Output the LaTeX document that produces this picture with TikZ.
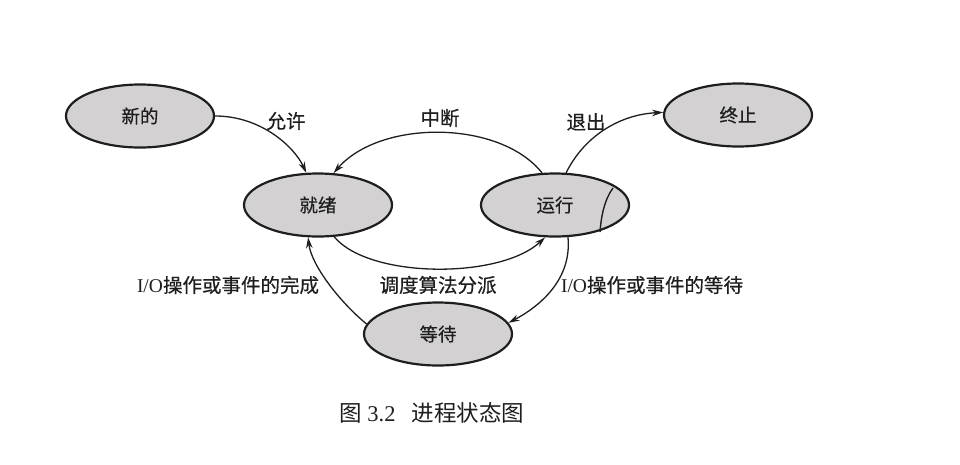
\documentclass[tikz,border=0pt]{standalone}
\usepackage{fontspec}
\setmainfont{Liberation Serif}
\newfontfamily\cjk[FakeBold=0.5]{Noto Sans CJK SC}
\newfontfamily\capfont{Noto Sans CJK SC}
\usetikzlibrary{shapes.geometric,arrows.meta}
\definecolor{statefill}{HTML}{D3D1D1}
\definecolor{ink}{HTML}{1E1E1E}
\tikzset{
  state/.style={ellipse, draw=ink, line width=2.2pt, fill=statefill,
    minimum width=148pt, minimum height=63pt, inner sep=0pt,
    font=\cjk\fontsize{18.5}{21}\selectfont, text=ink},
  trans/.style={draw=ink, line width=1.3pt, -{Stealth[length=11pt,width=6.5pt]}},
  lbl/.style={font=\cjk\fontsize{19.5}{22}\selectfont, text=ink, inner sep=0pt},
}
\begin{document}
\begin{tikzpicture}[x=1pt,y=-1pt]
\useasboundingbox (0,0) rectangle (960,464);
% states
\node[state] (xin)  at (140,116) {新的};
\node[state] (jx)   at (318,205) {就绪};
\node[state] (yx)   at (555,205) {运行};
\node[state] (zz)   at (738,115) {终止};
\node[state] (dd)   at (438,334) {等待};
% transitions
\draw[trans] (xin.0) .. controls +(46,0) and +(-12,-26) .. (jx.110);
\draw[trans] (yx.112) .. controls +(-42,-53) and +(47,-54) .. (jx.64);
\draw[trans] (yx.71) .. controls +(19,-38) and +(-42,2) .. (zz.178);
\draw[trans] (jx.297) .. controls +(35,42) and +(-45,42) .. (yx.253);
\draw[trans] (dd.172) .. controls +(-28,-23) and +(3,27) .. (jx.253);
\draw[trans] (yx.292) .. controls +(4,42) and +(32,-17) .. (dd.9);
% scan artifact inside 运行
\draw[ink, line width=1.4pt] (613,188) .. controls (604,200) and (601,218) .. (600,232);
% labels
\node[lbl] (l1) at (286,121) {允许};
\node[lbl] (l2) at (440,118) {中断};
\node[lbl] (l3) at (586,122) {退出};
\node[lbl] (l4) at (438,285) {调度算法分派};
\node[lbl] (l5) at (228,285) {{\rmfamily I/O}操作或事件的完成};
\node[lbl] (l6) at (652,285) {{\rmfamily I/O}操作或事件的等待};
\node[lbl, font=\capfont\fontsize{22.5}{26}\selectfont] (cap) at (432,413) {图 {\rmfamily 3.2}\hspace{16pt}进程状态图};
\end{tikzpicture}
\end{document}
